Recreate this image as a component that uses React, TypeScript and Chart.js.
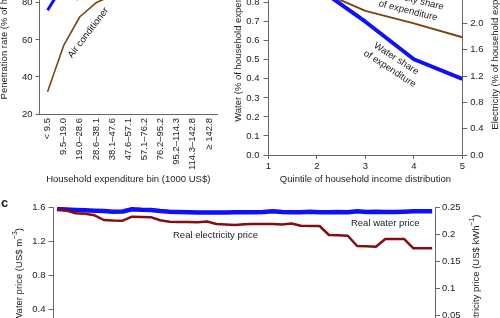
import React, { useEffect, useRef } from "react";
import { Chart, registerables } from "chart.js";

Chart.register(...registerables);

// ---------- data ----------
const expenditureBins = ["< 9.5", "9.5–19.0", "19.0–28.6", "28.6–38.1", "38.1–47.6", "47.6–57.1", "57.1–76.2", "76.2–95.2", "95.2–114.3", "114.3–142.8", "≥ 142.8"];
const airConditionerRate = [32, 57, 72.5, 80, 84, 87, 89, 91, 93, 94, 95];
const washingMachineRate = [76, 90, 94, 96, 97, 98, 98, 99, 99, 99, 99];

const incomeQuintiles = [1, 2, 3, 4, 5];
const waterShare = [1.05, 0.88, 0.7, 0.503, 0.4];
const electricityShare = [2.9, 2.51, 2.19, 2.0, 1.79];

const waterPrice = [
  1.576, 1.571, 1.565, 1.561, 1.556, 1.553, 1.544, 1.547, 1.573, 1.567,
  1.565, 1.553, 1.544, 1.541, 1.538, 1.535, 1.535, 1.535, 1.535, 1.538,
  1.538, 1.538, 1.541, 1.549, 1.541, 1.538, 1.538, 1.545, 1.538, 1.538,
  1.541, 1.538, 1.549, 1.541, 1.545, 1.541, 1.541, 1.544, 1.549, 1.549,
  1.549,
];
const electricityPrice = [
  0.2458, 0.2436, 0.2384, 0.2377, 0.2347, 0.2261, 0.2252, 0.2248, 0.2322, 0.2316,
  0.2313, 0.2256, 0.223, 0.2224, 0.2224, 0.2219, 0.2233, 0.2188, 0.2178, 0.2169,
  0.2182, 0.2188, 0.2188, 0.2188, 0.2178, 0.2197, 0.2154, 0.2151, 0.2151, 0.1985,
  0.198, 0.1972, 0.1783, 0.1778, 0.177, 0.1912, 0.1912, 0.1912, 0.1741, 0.1741,
  0.1741,
];

// ---------- styles ----------
const FONT = "'Liberation Sans', Arial, Helvetica, sans-serif";
const FS = 9.5;
const TEXT = "#222";
const AXIS = "#666";
const BLUE = "rgb(15,15,250)";
const BROWN = "rgb(120,70,20)";
const DARKRED = "rgb(135,12,15)";

Chart.defaults.font.family = FONT;
Chart.defaults.font.size = FS;
Chart.defaults.color = TEXT;

function fix(size: number) {
  return (s: any) => {
    if (s.isHorizontal()) s.height = size;
    else s.width = size;
    s.paddingLeft = 0;
    s.paddingRight = 0;
    s.paddingTop = 0;
    s.paddingBottom = 0;
  };
}

function txt(ctx: CanvasRenderingContext2D, s: string, x: number, y: number, rot = 0, align: CanvasTextAlign = "center", font = `${FS}px ${FONT}`) {
  ctx.save();
  ctx.translate(x, y);
  ctx.rotate((rot * Math.PI) / 180);
  ctx.font = font;
  ctx.fillStyle = TEXT;
  ctx.textAlign = align;
  ctx.textBaseline = "middle";
  ctx.fillText(s, 0, 0);
  ctx.restore();
}

function lines(ctx: CanvasRenderingContext2D, ls: string[], x: number, y: number, rot: number, lh = 12) {
  ctx.save();
  ctx.translate(x, y);
  ctx.rotate((rot * Math.PI) / 180);
  ctx.font = `${FS}px ${FONT}`;
  ctx.fillStyle = TEXT;
  ctx.textAlign = "center";
  ctx.textBaseline = "middle";
  const off = ((ls.length - 1) * lh) / 2;
  ls.forEach((l, i) => ctx.fillText(l, 0, i * lh - off));
  ctx.restore();
}

function rich(ctx: CanvasRenderingContext2D, parts: { t: string; sup?: boolean }[], x: number, y: number, rot: number) {
  ctx.save();
  ctx.translate(x, y);
  ctx.rotate((rot * Math.PI) / 180);
  ctx.fillStyle = TEXT;
  ctx.textBaseline = "middle";
  ctx.textAlign = "left";
  const f = `${FS}px ${FONT}`;
  const fs = `${FS * 0.72}px ${FONT}`;
  let total = 0;
  for (const p of parts) {
    ctx.font = p.sup ? fs : f;
    total += ctx.measureText(p.t).width;
  }
  let cx = -total / 2;
  for (const p of parts) {
    ctx.font = p.sup ? fs : f;
    ctx.fillText(p.t, cx, p.sup ? -3.5 : 0);
    cx += ctx.measureText(p.t).width;
  }
  ctx.restore();
}

const axisGrid = (tickLength: number) => ({
  display: true,
  drawOnChartArea: false,
  drawTicks: true,
  tickLength,
  color: AXIS,
  lineWidth: 1,
});
const border = { display: true, color: AXIS, width: 1 };

export default function App() {
  const refA = useRef<HTMLCanvasElement>(null);
  const refB = useRef<HTMLCanvasElement>(null);
  const refC = useRef<HTMLCanvasElement>(null);

  useEffect(() => {
    const charts: Chart[] = [];

    // ---------- panel a ----------
    charts.push(
      new Chart(refA.current!, {
        type: "line",
        data: {
          labels: expenditureBins,
          datasets: [
            { label: "Washing machine", data: washingMachineRate, borderColor: BLUE, borderWidth: 3, pointRadius: 0, borderJoinStyle: "round" },
            { label: "Air conditioner", data: airConditionerRate, borderColor: BROWN, borderWidth: 1.6, pointRadius: 0, borderJoinStyle: "round" },
          ],
        },
        options: {
          animation: false,
          responsive: false,
          devicePixelRatio: 1,
          layout: { padding: { top: 8, right: 23, left: 0, bottom: 0 } },
          plugins: { legend: { display: false }, tooltip: { enabled: false } },
          scales: {
            x: {
              type: "category",
              offset: true,
              grid: { display: false, drawTicks: false },
              border,
              ticks: { minRotation: 90, maxRotation: 90, autoSkip: false, padding: 4, color: TEXT },
              afterFit: fix(81),
            },
            y: {
              min: 20,
              max: 115,
              grid: axisGrid(4),
              border,
              ticks: { stepSize: 20, includeBounds: false, padding: 3, color: TEXT },
              afterFit: fix(39.5),
            },
          },
        } as any,
        plugins: [
          {
            id: "textA",
            afterDraw(chart: any) {
              const ctx = chart.ctx;
              const ca = chart.chartArea;
              const x = chart.scales.x;
              const y = chart.scales.y;
              txt(ctx, "Penetration rate (% of households)", ca.left - 35.5, (ca.top + ca.bottom) / 2, -90);
              txt(ctx, "Household expenditure bin (1000 US$)", (ca.left + ca.right) / 2, ca.bottom + 65);
              txt(ctx, "Air conditioner", x.getPixelForValue(2.52), y.getPixelForValue(63.8), -52.6);
              ctx.save();
              ctx.translate(x.getPixelForValue(1.78), y.getPixelForValue(80.5));
              ctx.rotate((-52.6 * Math.PI) / 180);
              ctx.font = `${FS}px ${FONT}`;
              ctx.fillStyle = TEXT;
              ctx.textAlign = "left";
              ctx.textBaseline = "alphabetic";
              ctx.fillText("Washing machine", 0, 0);
              ctx.restore();
            },
          },
        ],
      })
    );

    // ---------- panel b ----------
    charts.push(
      new Chart(refB.current!, {
        type: "line",
        data: {
          datasets: [
            {
              label: "Electricity share of expenditure",
              data: incomeQuintiles.map((q, i) => ({ x: q, y: electricityShare[i] })),
              yAxisID: "y2",
              borderColor: BROWN,
              borderWidth: 2,
              pointRadius: 0,
              borderJoinStyle: "round",
            },
            {
              label: "Water share of expenditure",
              data: incomeQuintiles.map((q, i) => ({ x: q, y: waterShare[i] })),
              yAxisID: "y",
              borderColor: BLUE,
              borderWidth: 4,
              pointRadius: 0,
              borderJoinStyle: "round",
            },
          ],
        },
        options: {
          animation: false,
          responsive: false,
          devicePixelRatio: 1,
          layout: { padding: { top: 7, right: 0, left: 0, bottom: 0 } },
          plugins: { legend: { display: false }, tooltip: { enabled: false } },
          scales: {
            x: {
              type: "linear",
              min: 1,
              max: 5,
              grid: axisGrid(4),
              border,
              ticks: { stepSize: 1, padding: 2, color: TEXT },
              afterFit: fix(40),
            },
            y: {
              position: "left",
              min: 0,
              max: 1.145,
              grid: axisGrid(5),
              border,
              ticks: { stepSize: 0.1, includeBounds: false, padding: 4, color: TEXT, callback: (v: any) => Number(v).toFixed(1) },
              afterFit: fix(43.5),
            },
            y2: {
              position: "right",
              min: 0,
              max: 3.313,
              grid: axisGrid(5),
              border,
              ticks: { stepSize: 0.4, includeBounds: false, padding: 3, color: TEXT, callback: (v: any) => Number(v).toFixed(1) },
              afterFit: fix(37.7),
            },
          },
        } as any,
        plugins: [
          {
            id: "textB",
            afterDraw(chart: any) {
              const ctx = chart.ctx;
              const ca = chart.chartArea;
              const x = chart.scales.x;
              const y = chart.scales.y;
              const y2 = chart.scales.y2;
              const mid = (ca.top + ca.bottom) / 2;
              txt(ctx, "Water (% of household expenditure)", ca.left - 30.2, mid, -90);
              txt(ctx, "Electricity (% of household expenditure)", ca.right + 33.4, mid, -90);
              txt(ctx, "Quintile of household income distribution", (ca.left + ca.right) / 2, ca.bottom + 24);
              lines(ctx, ["Water share", "of expenditure"], x.getPixelForValue(3.57), y.getPixelForValue(0.479), 33);
              lines(ctx, ["Electricity share", "of expenditure"], x.getPixelForValue(3.91), y2.getPixelForValue(2.28), 14);
            },
          },
        ],
      })
    );

    // ---------- panel c ----------
    charts.push(
      new Chart(refC.current!, {
        type: "line",
        data: {
          datasets: [
            {
              label: "Real electricity price",
              data: electricityPrice.map((v, i) => ({ x: i, y: v })),
              yAxisID: "y2",
              borderColor: DARKRED,
              borderWidth: 2.5,
              pointRadius: 0,
              borderJoinStyle: "round",
            },
            {
              label: "Real water price",
              data: waterPrice.map((v, i) => ({ x: i, y: v })),
              yAxisID: "y",
              borderColor: BLUE,
              borderWidth: 4.5,
              pointRadius: 0,
              borderJoinStyle: "round",
            },
          ],
        },
        options: {
          animation: false,
          responsive: false,
          devicePixelRatio: 1,
          layout: { padding: { top: 17, right: 0, left: 0, bottom: 17 } },
          plugins: { legend: { display: false }, tooltip: { enabled: false } },
          scales: {
            x: { type: "linear", display: false, min: -0.37, max: 40.3 },
            y: {
              position: "left",
              min: 0,
              max: 1.6,
              grid: axisGrid(5),
              border,
              ticks: { stepSize: 0.4, padding: 3, color: TEXT, callback: (v: any) => Number(v).toFixed(1) },
              afterFit: fix(53.5),
            },
            y2: {
              position: "right",
              min: 0,
              max: 0.25,
              grid: axisGrid(5),
              border,
              ticks: { stepSize: 0.05, padding: 2, color: TEXT, callback: (v: any) => String(Number(Number(v).toFixed(2))) },
              afterFit: fix(65),
            },
          },
        } as any,
        plugins: [
          {
            id: "textC",
            afterDraw(chart: any) {
              const ctx = chart.ctx;
              const ca = chart.chartArea;
              const x = chart.scales.x;
              const y = chart.scales.y;
              const mid = (ca.top + ca.bottom) / 2;
              txt(ctx, "c", 1, ca.top - 4, 0, "left", `bold 13px ${FONT}`);
              rich(ctx, [{ t: "Water price (US$ m" }, { t: "−3", sup: true }, { t: ")" }], ca.left - 34.5, mid, -90);
              rich(ctx, [{ t: "Electricity price (US$ kWh" }, { t: "−1", sup: true }, { t: ")" }], ca.right + 41, mid, -90);
              txt(ctx, "Real electricity price", x.getPixelForValue(16.9), y.getPixelForValue(1.27));
              txt(ctx, "Real water price", x.getPixelForValue(35), y.getPixelForValue(1.41));
            },
          },
        ],
      })
    );

    return () => charts.forEach((c) => c.destroy());
  }, []);

  return (
    <div style={{ position: "fixed", left: 0, top: 0, width: 500, height: 318, overflow: "hidden", background: "#fff" }}>
      <canvas ref={refA} width={240} height={265} style={{ position: "absolute", left: 0, top: -70, width: 240, height: 265 }} />
      <canvas ref={refB} width={275} height={265} style={{ position: "absolute", left: 225, top: -70, width: 275, height: 265 }} />
      <canvas ref={refC} width={500} height={170} style={{ position: "absolute", left: 0, top: 190, width: 500, height: 170 }} />
    </div>
  );
}
